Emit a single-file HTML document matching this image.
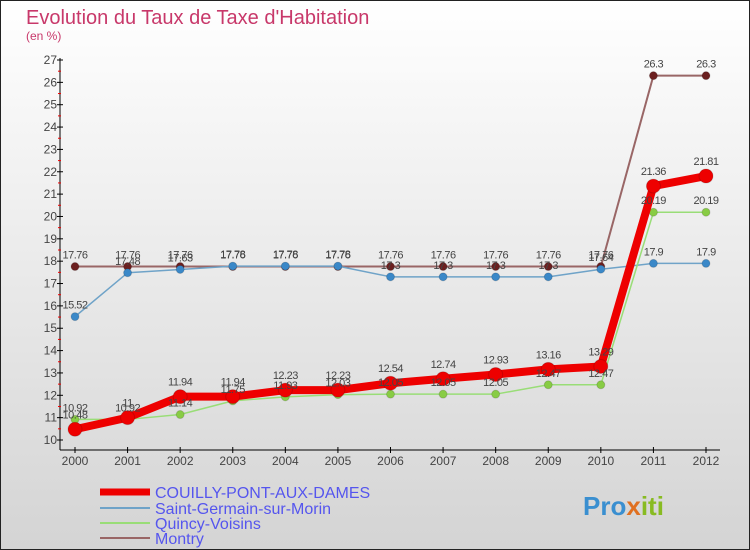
<!DOCTYPE html>
<html><head><meta charset="utf-8"><style>
body{margin:0;width:750px;height:550px;overflow:hidden;font-family:"Liberation Sans",sans-serif}
svg{display:block}
</style></head><body>
<svg id="chart" width="750" height="550">
<defs><linearGradient id="bg" x1="0" y1="0" x2="0" y2="1"><stop offset="0" stop-color="#ffffff"/><stop offset="1" stop-color="#d4d4d4"/></linearGradient></defs>
<rect x="0.5" y="0.5" width="749" height="549" fill="url(#bg)" stroke="#222"/>
<text x="26" y="24" font-size="20" fill="#c8386a">Evolution du Taux de Taxe d'Habitation</text>
<text x="26" y="40" font-size="12" fill="#c8386a">(en %)</text>
<g id="axes"></g><g id="series"></g><g id="labels"></g>
<g>
<line x1="100" y1="492" x2="150" y2="492" stroke="#e00" stroke-width="7"/>
<text x="155" y="498" font-size="16" fill="#5555ee">COUILLY-PONT-AUX-DAMES</text>
<line x1="100" y1="508" x2="150" y2="508" stroke="#6fa3c8" stroke-width="2"/>
<text x="155" y="514" font-size="16" fill="#5555ee">Saint-Germain-sur-Morin</text>
<line x1="100" y1="523" x2="150" y2="523" stroke="#99dd77" stroke-width="2"/>
<text x="155" y="529" font-size="16" fill="#5555ee">Quincy-Voisins</text>
<line x1="100" y1="538" x2="150" y2="538" stroke="#996666" stroke-width="2"/>
<text x="155" y="544" font-size="16" fill="#5555ee">Montry</text>
</g>
<text x="583" y="515" font-size="26" font-weight="bold" fill="#3a8fd0">Pro<tspan fill="#e07020">x</tspan><tspan fill="#88bb22">iti</tspan></text>
</svg>
<script>
const years=[2000,2001,2002,2003,2004,2005,2006,2007,2008,2009,2010,2011,2012];
const couilly=[10.48,11,11.94,11.94,12.23,12.23,12.54,12.74,12.93,13.16,13.29,21.36,21.81];
const saintGermain=[15.52,17.48,17.63,17.78,17.78,17.78,17.3,17.3,17.3,17.3,17.64,17.9,17.9];
const quincy=[10.92,10.92,11.14,11.75,11.93,12.03,12.05,12.05,12.05,12.47,12.47,20.19,20.19];
const montry=[17.76,17.76,17.76,17.76,17.76,17.76,17.76,17.76,17.76,17.76,17.76,26.3,26.3];
const yTicks=[10,11,12,13,14,15,16,17,18,19,20,21,22,23,24,25,26,27];
const NS="http://www.w3.org/2000/svg";
const xS=i=>75+i*(706-75)/(years.length-1);
const yS=v=>440-(v-10)*(380/17);
function mk(tag,attrs,parent,txt){const e=document.createElementNS(NS,tag);for(const k in attrs)e.setAttribute(k,attrs[k]);if(txt!==undefined)e.textContent=txt;parent.appendChild(e);return e;}
const ax=document.getElementById('axes');
let a=mk('line',{x1:60,y1:58,x2:60,y2:450,stroke:'#000'},ax);


a=mk('line',{x1:60,y1:450,x2:720,y2:450,stroke:'#000'},ax);


yTicks.forEach(v=>{
  mk('line',{x1:57,y1:yS(v),x2:63,y2:yS(v),stroke:'#000'},ax);
  if(v<27)mk('line',{x1:58,y1:yS(v+0.5),x2:61,y2:yS(v+0.5),stroke:'#e00'},ax);
  const t=mk('text',{x:57,y:yS(v)+4,'font-size':12,fill:'#444','text-anchor':'end'},ax,String(v));
  
  
});
years.forEach((y,i)=>{
  mk('line',{x1:xS(i),y1:447,x2:xS(i),y2:453,stroke:'#000'},ax);
  const t=mk('text',{x:xS(i),y:465,'font-size':12,fill:'#444','text-anchor':'middle'},ax,String(y));
  
  
});
const sg=document.getElementById('series'),lg=document.getElementById('labels');
function series(vals,color,dot,w,r,name,off){
  const g=mk('g',{},sg);
  
  
  mk('polyline',{points:vals.map((v,i)=>xS(i)+','+yS(v)).join(' '),fill:'none',stroke:color,'stroke-width':w,'stroke-linejoin':'round'},g);
  vals.forEach((v,i)=>{
    const c=mk('circle',{cx:xS(i),cy:yS(v),r:r,fill:dot,stroke:'rgba(0,0,0,0.15)'},g);
    
    
    const t=mk('text',{x:xS(i),y:yS(v)-off,'font-size':11,fill:'#444','text-anchor':'middle','letter-spacing':'-0.5'},lg,String(v));
    
    
  });
}
series(montry,'#996666','#6b1f1f',2,4,'montry-series',8);
series(saintGermain,'#6fa3c8','#3a88c8',1.5,4,'saint-germain-series',8);
series(quincy,'#99dd77','#88cc44',1.5,4,'quincy-series',8);
series(couilly,'#ee0000','#ee0000',8,7,'couilly-series',11);
</script>
</body></html>
